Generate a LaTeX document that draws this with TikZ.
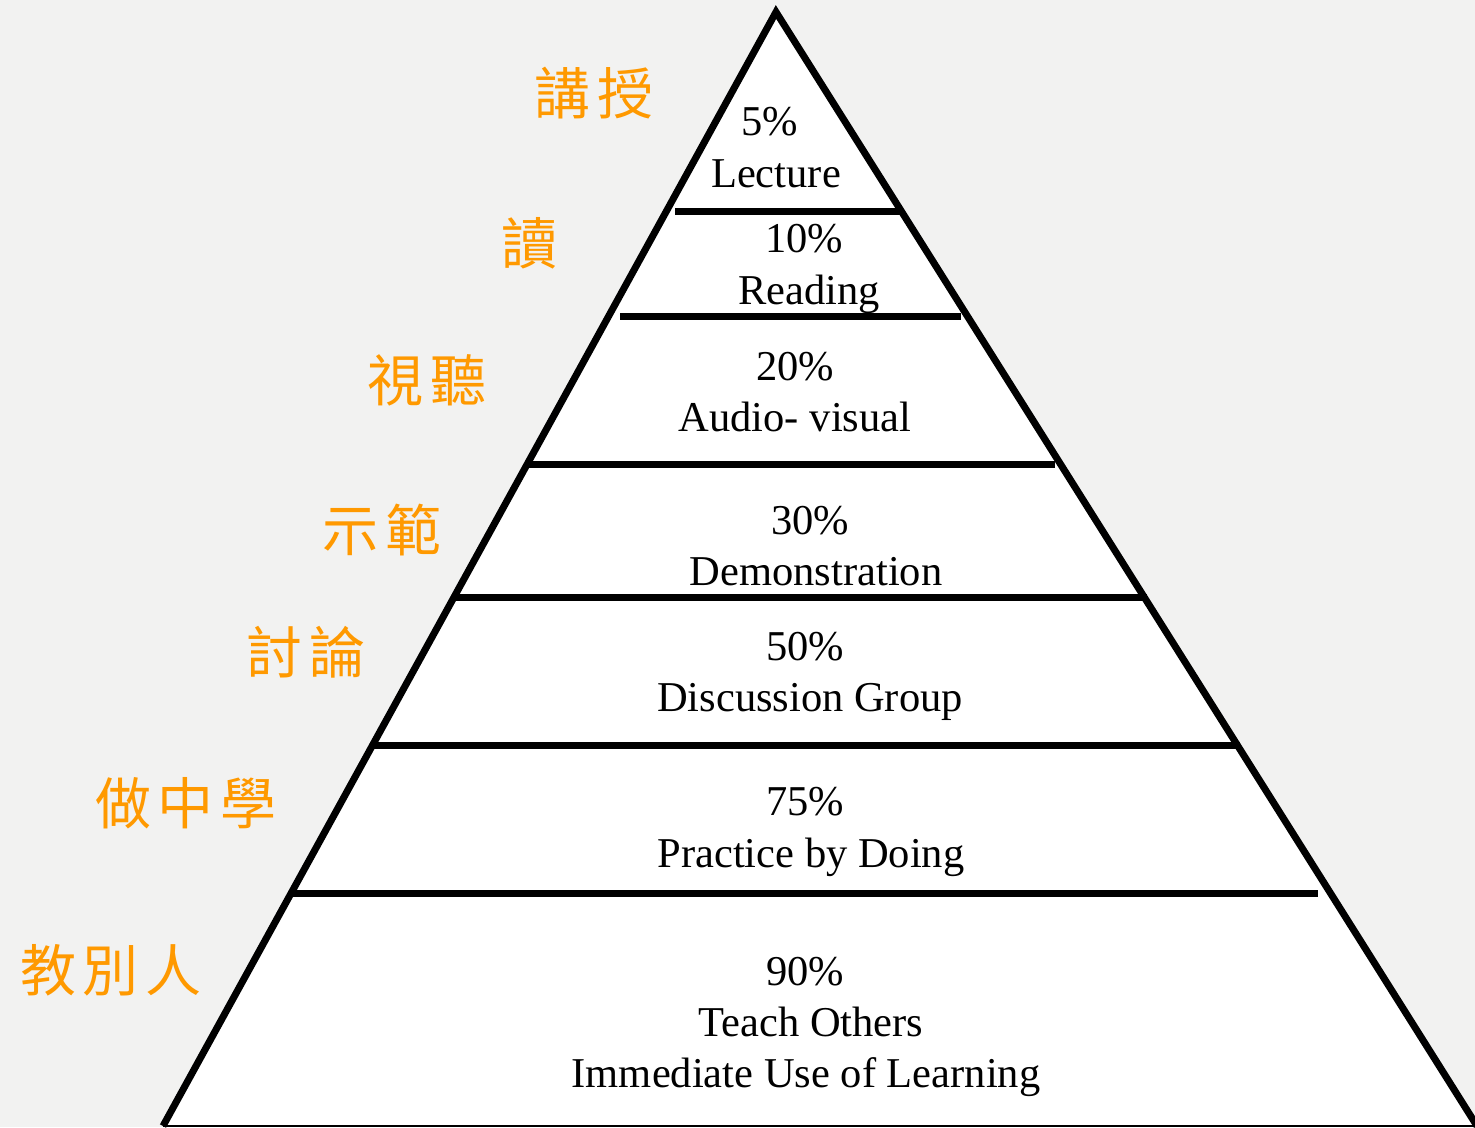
\documentclass[tikz,border=0pt]{standalone}
\usepackage{fontspec}
\setmainfont{Liberation Serif}
\newfontfamily\cjk[LetterSpace=11]{Noto Sans CJK TC}
\definecolor{bgc}{HTML}{F2F2F1}
\definecolor{orng}{HTML}{FF9900}
\begin{document}
\begin{tikzpicture}[x=1pt,y=-1pt,
  lbl/.style={anchor=base,inner sep=0pt,font=\fontsize{42.5}{42.5}\selectfont},
  zh/.style={anchor=center,inner sep=0pt,text=orng,font=\cjk\fontsize{56}{56}\selectfont},
  edge/.style={line width=7pt,line join=miter},
  band/.style={line width=7pt}]
\useasboundingbox (0,0) rectangle (1475,1127);
\clip (0,0) rectangle (1475,1127);
\fill[bgc] (0,0) rectangle (1475,1127);
\coordinate (A) at (776,12);
\coordinate (B) at (163,1126);
\coordinate (C) at (1477,1126);
\fill[white] (A) -- (B) -- (C) -- cycle;
\draw[line width=2pt] (B) -- (C);
\draw[edge] (B) -- (A) -- (C);
% dividers
\draw[band] (675,211) -- (900,211);
\draw[band] (620,316) -- (961,316);
\draw[band] (527,464) -- (1055,464);
\draw[band] (453,597) -- (1147,597);
\draw[band] (372,745) -- (1240,745);
\draw[band] (292,893) -- (1318,893);
% labels
\node[lbl] (p1) at (770,135) {5\%};
\node[lbl] (t1) at (776,187) {Lecture};
\node[lbl] (p2) at (804,252) {10\%};
\node[lbl] (t2) at (809,304) {Reading};
\node[lbl] (p3) at (795,380) {20\%};
\node[lbl] (t3) at (795,431) {Audio- visual};
\node[lbl] (p4) at (810,534) {30\%};
\node[lbl] (t4) at (816,585) {Demonstration};
\node[lbl] (p5) at (805,660) {50\%};
\node[lbl] (t5) at (810,711) {Discussion Group};
\node[lbl] (p6) at (805,815) {75\%};
\node[lbl] (t6) at (811,867) {Practice by Doing};
\node[lbl] (p7) at (805,985) {90\%};
\node[lbl] (t7) at (811,1036) {Teach Others};
\node[lbl] (u7) at (806,1087) {Immediate Use of Learning};
% chinese
\node[zh] (z1) at (594,93) {講授};
\node[zh] (z2) at (529,243) {讀};
\node[zh] (z3) at (427,380) {視聽};
\node[zh] (z4) at (382,530) {示範};
\node[zh] (z5) at (306,652) {討論};
\node[zh] (z6) at (186,803) {做中學};
\node[zh] (z7) at (111,970) {教別人};
\end{tikzpicture}
\end{document}
